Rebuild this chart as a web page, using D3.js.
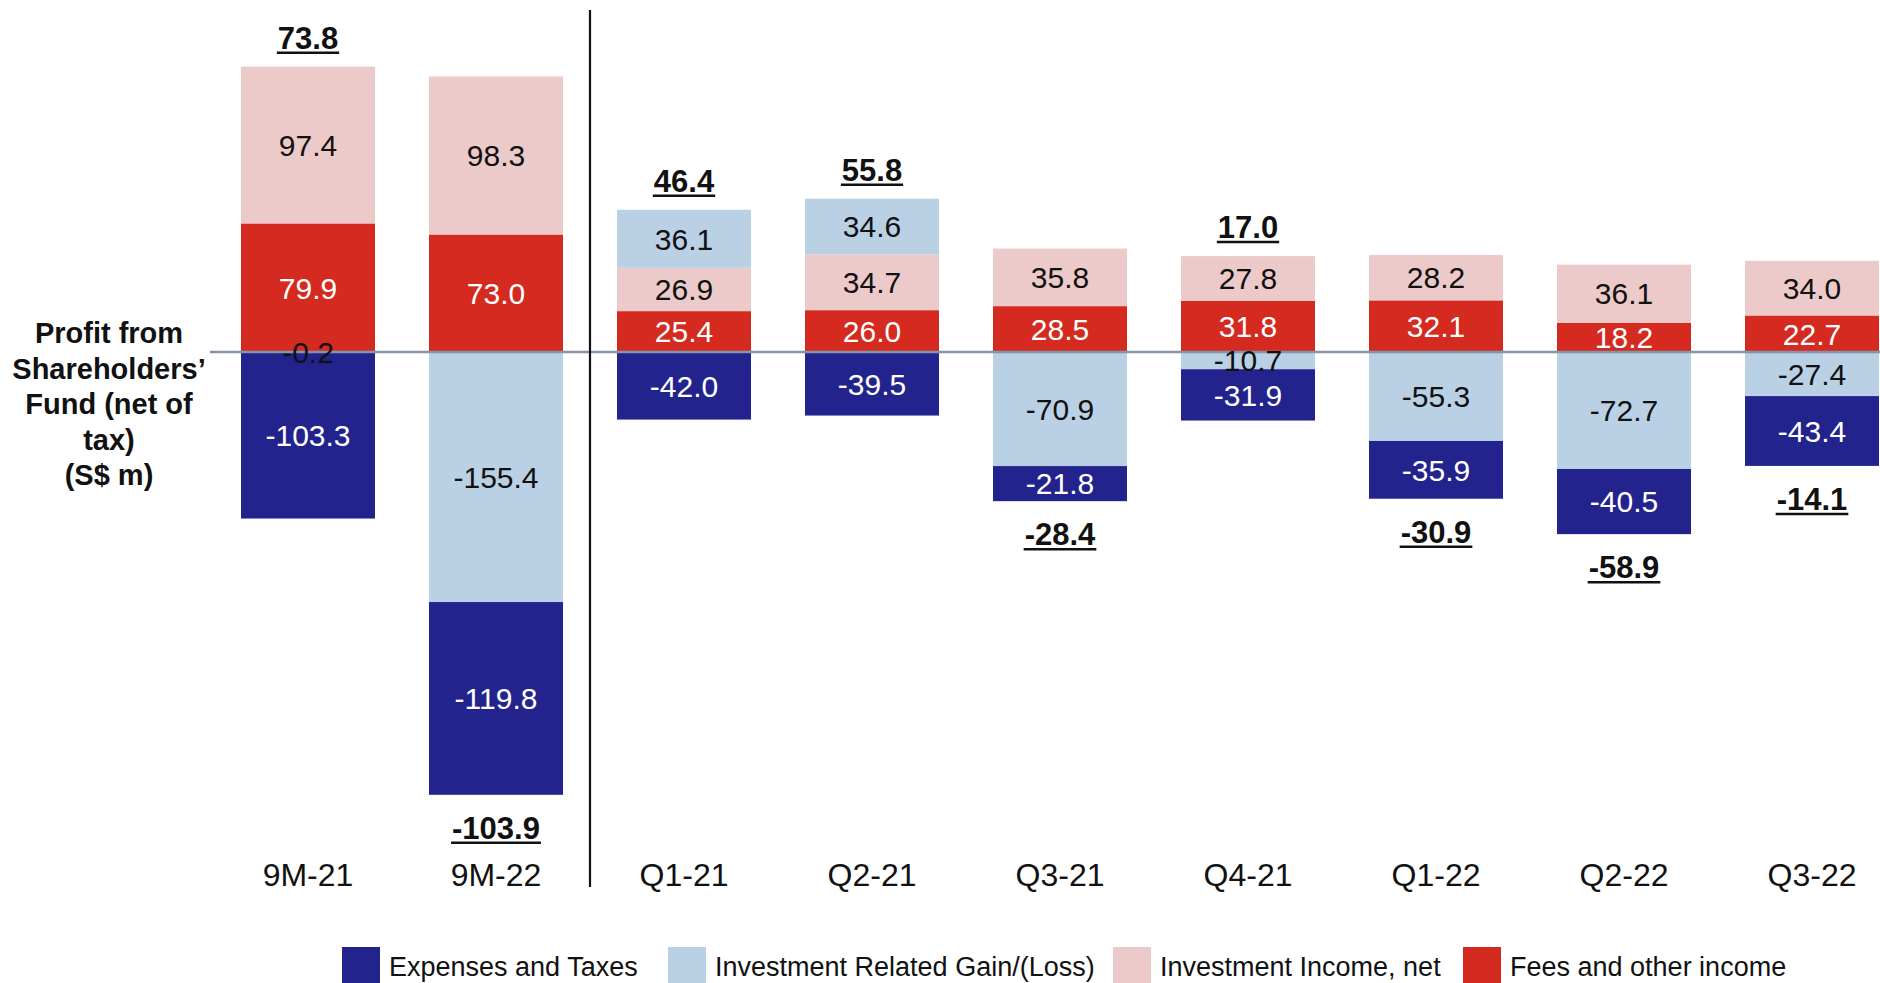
<!DOCTYPE html>
<html>
<head>
<meta charset="utf-8">
<script src="https://cdn.jsdelivr.net/npm/d3@7/dist/d3.min.js"></script>
<style>
  html, body { margin: 0; padding: 0; background: #fff; }
  svg { display: block; font-family: "Liberation Sans", Arial, sans-serif; }
</style>
</head>
<body>
<svg id="chart" width="1880" height="983"></svg>
<script>
// Profit from Shareholders' Fund, by component (S$ m)
const categories = ["9M-21", "9M-22", "Q1-21", "Q2-21", "Q3-21", "Q4-21", "Q1-22", "Q2-22", "Q3-22"];
const feesOther   = [79.9, 73.0, 25.4, 26.0, 28.5, 31.8, 32.1, 18.2, 22.7];
const invIncome   = [97.4, 98.3, 26.9, 34.7, 35.8, 27.8, 28.2, 36.1, 34.0];
const invGainLoss = [-0.2, -155.4, 36.1, 34.6, -70.9, -10.7, -55.3, -72.7, -27.4];
const expenses    = [-103.3, -119.8, -42.0, -39.5, -21.8, -31.9, -35.9, -40.5, -43.4];
const totals      = [73.8, -103.9, 46.4, 55.8, -28.4, 17.0, -30.9, -58.9, -14.1];

const yTitle = ["Profit from", "Shareholders\u2019", "Fund (net of", "tax)", "(S$ m)"];

// Stacking order: positives build up from zero, negatives build down from zero
const series = [
  { name: "Fees and other income",          values: feesOther,   color: "#d42a1f", text: "#ffffff" },
  { name: "Investment Income, net",         values: invIncome,   color: "#edcaca", text: "#111111" },
  { name: "Investment Related Gain/(Loss)", values: invGainLoss, color: "#bad0e5", text: "#111111" },
  { name: "Expenses and Taxes",             values: expenses,    color: "#23238e", text: "#ffffff" }
];
const legendOrder = ["Expenses and Taxes", "Investment Related Gain/(Loss)", "Investment Income, net", "Fees and other income"];

const svg = d3.select("#chart");

const x = d3.scaleBand()
  .domain(categories)
  .range([214, 1906])
  .paddingInner(0.2872)
  .paddingOuter(0.1436);

const y = d3.scaleLinear()
  .domain([-280, 180])
  .range([352 + 280 * 1.609, 352 - 180 * 1.609]);

// Build stacked segments
const segments = [];
categories.forEach((cat, i) => {
  let pos = 0, neg = 0;
  series.forEach(s => {
    const v = s.values[i];
    let y0, y1;
    if (v >= 0) { y0 = pos; y1 = pos + v; pos = y1; }
    else { y0 = neg; y1 = neg + v; neg = y1; }
    segments.push({ cat, v, y0, y1, s });
  });
});

const bars = svg.append("g");
bars.selectAll("rect")
  .data(segments)
  .join("rect")
  .attr("x", d => x(d.cat))
  .attr("width", x.bandwidth())
  .attr("y", d => Math.min(y(d.y0), y(d.y1)))
  .attr("height", d => Math.abs(y(d.y0) - y(d.y1)))
  .attr("fill", d => d.s.color);

// Zero line
svg.append("line")
  .attr("x1", 210).attr("x2", 1880)
  .attr("y1", y(0)).attr("y2", y(0))
  .attr("stroke", "#8495ab")
  .attr("stroke-width", 2.5);

// Divider between year-to-date and quarterly bars
const divX = (x("9M-22") + x.bandwidth() + x("Q1-21")) / 2;
svg.append("line")
  .attr("x1", divX).attr("x2", divX)
  .attr("y1", 10).attr("y2", 887)
  .attr("stroke", "#111")
  .attr("stroke-width", 2.2);

// Segment value labels
svg.append("g").selectAll("text")
  .data(segments)
  .join("text")
  .attr("x", d => x(d.cat) + x.bandwidth() / 2)
  .attr("y", d => (y(d.y0) + y(d.y1)) / 2)
  .attr("dy", "0.36em")
  .attr("text-anchor", "middle")
  .attr("font-size", 30)
  .attr("fill", d => d.s.text)
  .text(d => d.v.toFixed(1));

// Totals, bold and underlined, above or below each stack
const totalData = categories.map((cat, i) => {
  let pos = 0, neg = 0;
  series.forEach(s => { const v = s.values[i]; if (v >= 0) pos += v; else neg += v; });
  return { cat, total: totals[i], top: y(pos), bottom: y(neg) };
});
const tg = svg.append("g");
totalData.forEach(d => {
  const cx = x(d.cat) + x.bandwidth() / 2;
  const base = d.total >= 0 ? d.top - 18 : d.bottom + 44;
  const t = tg.append("text")
    .attr("x", cx)
    .attr("y", base)
    .attr("text-anchor", "middle")
    .attr("font-size", 31)
    .attr("font-weight", "bold")
    .attr("fill", "#111")
    .text(d.total.toFixed(1));
  const w = t.node().getComputedTextLength();
  tg.append("line")
    .attr("x1", cx - w / 2 - 1).attr("x2", cx + w / 2 + 1)
    .attr("y1", base + 4).attr("y2", base + 4)
    .attr("stroke", "#111")
    .attr("stroke-width", 2.5);
});

// Category axis (labels only)
const xAxis = svg.append("g")
  .attr("transform", "translate(0,863)")
  .call(d3.axisBottom(x).tickSize(0).tickPadding(0));
xAxis.select(".domain").remove();
xAxis.selectAll("text")
  .attr("font-size", 32)
  .attr("font-family", "Liberation Sans, Arial, sans-serif")
  .attr("fill", "#111")
  .attr("dy", "0.71em");

// Axis title
svg.append("text")
  .attr("text-anchor", "middle")
  .attr("font-size", 29)
  .attr("font-weight", "bold")
  .attr("fill", "#111")
  .selectAll("tspan")
  .data(yTitle)
  .join("tspan")
  .attr("x", 109)
  .attr("y", (d, i) => 333 + i * 35.5)
  .attr("dy", "0.36em")
  .text(d => d);

// Legend
const legendX = [342, 668, 1113, 1463];
const lg = svg.append("g");
legendOrder.forEach((name, i) => {
  const s = series.find(q => q.name === name);
  lg.append("rect")
    .attr("x", legendX[i]).attr("y", 947)
    .attr("width", 38).attr("height", 36)
    .attr("fill", s.color);
  lg.append("text")
    .attr("x", legendX[i] + 47)
    .attr("y", 966)
    .attr("dy", "0.36em")
    .attr("font-size", 27)
    .attr("fill", "#111")
    .text(name);
});
</script>
</body>
</html>
